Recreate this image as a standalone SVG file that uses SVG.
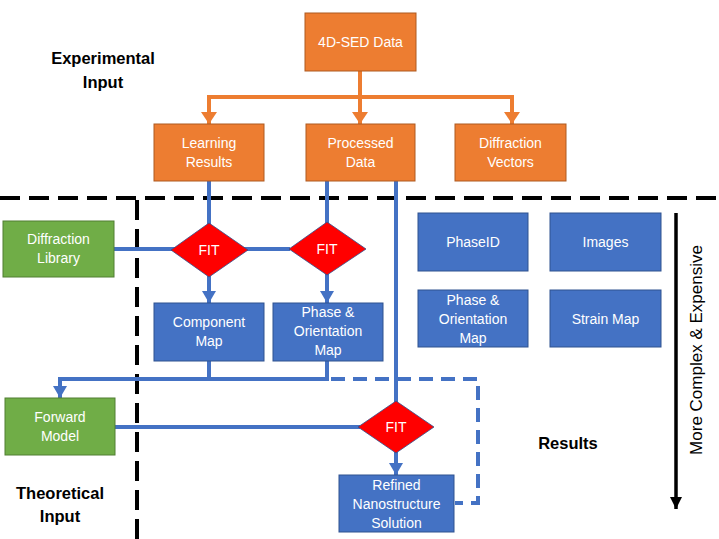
<svg xmlns="http://www.w3.org/2000/svg" width="719" height="539" viewBox="0 0 719 539">
<style>
.box text, .lbl {font-family:"Liberation Sans", Arial, sans-serif;}
.box text {font-size:14px; fill:#fff; text-anchor:middle;}
.or rect {fill:#ED7D31; stroke:#AE5A21; stroke-width:1;}
.bl rect {fill:#4472C4; stroke:#2F528F; stroke-width:1;}
.gr rect {fill:#70AD47; stroke:#507E32; stroke-width:1;}
.fit polygon {fill:#FF0000; stroke:#2F528F; stroke-width:0.8;}
.lbl {font-size:16.5px; font-weight:bold; fill:#000; text-anchor:middle;}
.bc {fill:none; stroke:#4472C4; stroke-width:4;}
.oc {fill:none; stroke:#ED7D31; stroke-width:4;}
.dash {fill:none; stroke:#000; stroke-width:4; stroke-dasharray:20 9;}
</style>
<defs>
<marker id="ab" markerUnits="userSpaceOnUse" markerWidth="12" markerHeight="14" viewBox="0 0 12 14" refX="12" refY="7" orient="auto"><path d="M0,0 L12,7 L0,14 z" fill="#4472C4"/></marker>
<marker id="ao" markerUnits="userSpaceOnUse" markerWidth="12" markerHeight="16" viewBox="0 0 12 16" refX="12" refY="8" orient="auto"><path d="M0,0 L12,8 L0,16 z" fill="#ED7D31"/></marker>
<marker id="ak" markerUnits="userSpaceOnUse" markerWidth="12" markerHeight="12" viewBox="0 0 12 12" refX="12" refY="6" orient="auto"><path d="M0,0 L12,6 L0,12 z" fill="#000"/></marker>
</defs>

<g id="dividers">
<path class="dash" d="M0,198 H719"/>
<path class="dash" d="M137,200 V539"/>
</g>

<g id="connectors">
<path class="oc" d="M360,71 V97 M207,97 H514"/>
<path class="oc" d="M209,97 V124" marker-end="url(#ao)"/>
<path class="oc" d="M360,97 V124" marker-end="url(#ao)"/>
<path class="oc" d="M512,97 V124" marker-end="url(#ao)"/>
<path class="bc" d="M209,181 V225"/>
<path class="bc" d="M327,181 V224"/>
<path class="bc" d="M396,181 V403"/>
<path class="bc" d="M114,249 H290"/>
<path class="bc" d="M209,276 V303" marker-end="url(#ab)"/>
<path class="bc" d="M327,274 V303" marker-end="url(#ab)"/>
<path class="bc" d="M209,361 V379 M327,361 V379"/>
<path class="bc" d="M329,379 H60 V398" marker-end="url(#ab)"/>
<path class="bc" d="M115,427 H360"/>
<path class="bc" d="M396,452 V475" marker-end="url(#ab)"/>
<path class="bc" d="M331,379 H478 V503 H455" stroke-dasharray="14 8"/>
<path d="M676,213 V509" stroke="#000" stroke-width="3.5" fill="none" marker-end="url(#ak)"/>
</g>

<g id="n-4dsed" class="box or"><rect x="305" y="13" width="111" height="58"/><text x="360.5" y="47">4D-SED Data</text></g>
<g id="n-learning" class="box or"><rect x="154" y="124" width="110" height="57"/><text x="209" y="148">Learning</text><text x="209" y="167">Results</text></g>
<g id="n-processed" class="box or"><rect x="306" y="124" width="109" height="57"/><text x="360.5" y="148">Processed</text><text x="360.5" y="167">Data</text></g>
<g id="n-dvectors" class="box or"><rect x="455" y="124" width="111" height="57"/><text x="510.5" y="148">Diffraction</text><text x="510.5" y="167">Vectors</text></g>

<g id="n-difflib" class="box gr"><rect x="3" y="221" width="111" height="56"/><text x="58.5" y="244">Diffraction</text><text x="58.5" y="263">Library</text></g>
<g id="n-forward" class="box gr"><rect x="5" y="398" width="110" height="57"/><text x="60" y="422">Forward</text><text x="60" y="441">Model</text></g>

<g id="n-fit1" class="box fit"><polygon points="209,223 248,250 209,277 171,250"/><text x="209" y="255">FIT</text></g>
<g id="n-fit2" class="box fit"><polygon points="327,222 366,249 327,275 289,249"/><text x="327" y="254">FIT</text></g>
<g id="n-fit3" class="box fit"><polygon points="396,401 434,427 396,453 358,427"/><text x="396" y="432">FIT</text></g>

<g id="n-component" class="box bl"><rect x="154" y="303" width="110" height="58"/><text x="209" y="327">Component</text><text x="209" y="346">Map</text></g>
<g id="n-phasemap" class="box bl"><rect x="273" y="303" width="110" height="58"/><text x="328" y="317">Phase &amp;</text><text x="328" y="336">Orientation</text><text x="328" y="355">Map</text></g>
<g id="n-refined" class="box bl"><rect x="339" y="475" width="115" height="57"/><text x="396.5" y="490">Refined</text><text x="396.5" y="509">Nanostructure</text><text x="396.5" y="528">Solution</text></g>

<g id="n-phaseid" class="box bl"><rect x="418" y="213" width="110" height="58"/><text x="473" y="247">PhaseID</text></g>
<g id="n-images" class="box bl"><rect x="550" y="213" width="111" height="58"/><text x="605.5" y="247">Images</text></g>
<g id="n-phaseor" class="box bl"><rect x="418" y="290" width="110" height="57"/><text x="473" y="305">Phase &amp;</text><text x="473" y="324">Orientation</text><text x="473" y="343">Map</text></g>
<g id="n-strain" class="box bl"><rect x="550" y="290" width="111" height="57"/><text x="605.5" y="324">Strain Map</text></g>

<g id="labels">
<text class="lbl" x="103" y="64">Experimental</text>
<text class="lbl" x="103" y="88">Input</text>
<text class="lbl" x="60" y="499">Theoretical</text>
<text class="lbl" x="60" y="522">Input</text>
<text class="lbl" x="568" y="449">Results</text>
<text class="lbl" transform="translate(702,350) rotate(-90)" style="font-weight:normal;font-size:17px">More Complex &amp; Expensive</text>
</g>
</svg>
